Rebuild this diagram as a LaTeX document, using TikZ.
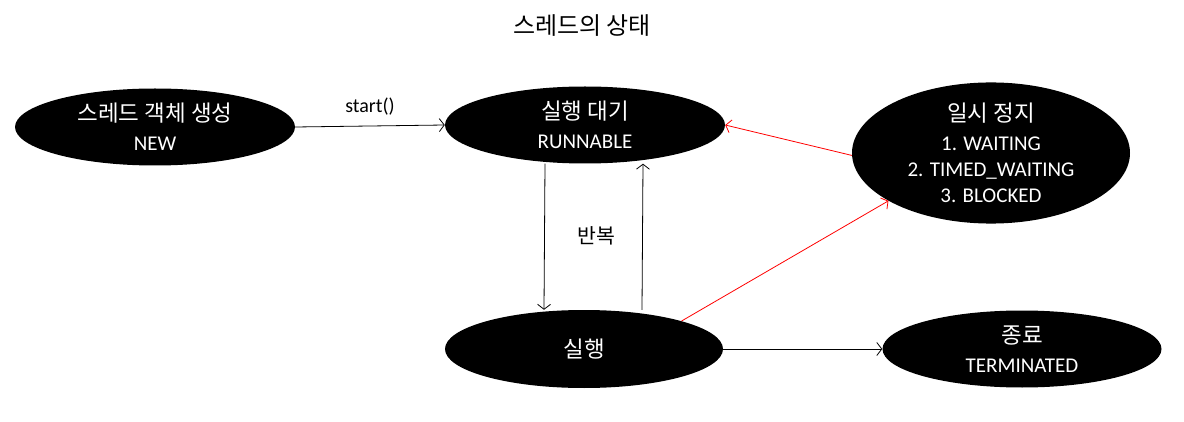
\documentclass[tikz,border=0pt]{standalone}
\usepackage{fontspec}
\setmainfont{Carlito}
\newfontfamily\kr{Noto Sans CJK KR}
\usetikzlibrary{shapes.geometric,arrows.meta}
\newcommand{\kline}[1]{{\kr\fontsize{22.5}{24}\selectfont #1}}
\begin{document}
\begin{tikzpicture}[x=1pt,y=-1pt,
  st/.style={ellipse, fill=black, draw=none, text=white, inner sep=0pt, align=center,
    font=\fontsize{21}{26}\selectfont},
  arr/.style={-{Straight Barb[length=5pt,width=13pt]}, line width=0.8pt},
  redarr/.style={arr, draw=red}]
\useasboundingbox (0,0) rectangle (1184,422);
\node[font=\kr\fontsize{24}{26}\selectfont] (title) at (582,26) {스레드의 상태};
\node[st, minimum width=280pt, minimum height=77pt] (new) at (155,127)
  {\kline{스레드 객체 생성}\\[3pt]NEW};
\node[st, minimum width=280pt, minimum height=77pt] (run) at (585,125)
  {\kline{실행 대기}\\[3pt]RUNNABLE};
\node[st, minimum width=278pt, minimum height=132pt] (pause) at (991,153)
  {\kline{일시 정지}\\[3pt]1. WAITING\\2. TIMED\_WAITING\\3. BLOCKED};
\node[st, minimum width=278pt, minimum height=78pt] (exec) at (584,349)
  {\kline{실행}};
\node[st, minimum width=279pt, minimum height=77pt] (term) at (1022,349)
  {\kline{종료}\\[3pt]TERMINATED};
\draw[arr] (new.east) -- node[above=7pt, font=\fontsize{20}{22}\selectfont] (lstart) {start()} (run.west);
\draw[arr] ([xshift=-40pt]run.south) -- ([xshift=-40pt]exec.north);
\draw[arr] ([xshift=58pt]exec.north) -- ([xshift=58pt]run.south);
\node[font=\kr\fontsize{20.5}{22}\selectfont] (loop) at (596,236) {반복};
\draw[redarr] (pause.181) -- (run.east);
\draw[redarr] (exec.16) -- (pause.205);
\draw[arr] (exec.east) -- (term.west);
\end{tikzpicture}
\end{document}
